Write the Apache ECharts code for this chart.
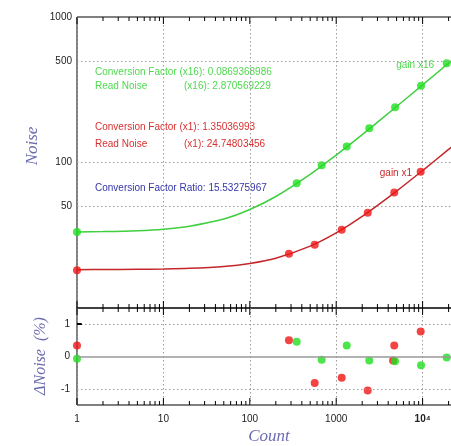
<!DOCTYPE html>
<html><head><meta charset="utf-8">
<script src="https://cdn.jsdelivr.net/npm/echarts@6/dist/echarts.min.js"></script>
<style>html,body{margin:0;padding:0;background:#fff}#c{width:451px;height:446px}</style>
</head><body><div id="c"></div>
<script>
// ---- data ----
const fitCount = [1, 2, 5, 10, 20, 50, 100, 200, 500, 1000, 2000, 5000, 10000, 20000, 50000];
const fitNoiseX1 = [18.35, 18.37, 18.43, 18.53, 18.73, 19.31, 20.25, 22.0, 26.6, 32.8, 42.6, 63.6, 88.0, 123, 193];
const fitNoiseX16 = [33.3, 33.5, 34.0, 34.8, 36.5, 40.9, 47.5, 58.4, 82.9, 112.5, 155.5, 242.6, 341.4, 481.7, 760.6];
const countX1 = [1, 284, 564, 1158, 2315, 4700, 9500];
const noiseX1 = [18.2, 23.6, 27.2, 34.5, 45.2, 62.1, 86.5];
const countX16 = [1, 349, 679, 1324, 2415, 4800, 9590, 19000];
const noiseX16 = [33.3, 71.9, 95.7, 129, 172, 240, 337, 481];
const resCountX1 = [1, 284, 564, 1158, 2315, 4550, 4700, 9500];
const resNoiseX1 = [0.34, 0.50, -0.82, -0.66, -1.05, -0.12, 0.34, 0.77];
const resCountX16 = [1, 349, 679, 1324, 2415, 4800, 9590, 19000];
const resNoiseX16 = [-0.07, 0.46, -0.10, 0.34, -0.12, -0.15, -0.27, -0.03];
// ticks / labels
const noiseTickLabels = [50, 100, 500, 1000];
const noiseGridLines = [50, 100, 500];
const noiseMajorTicks = [10, 100, 1000];
const noiseMinorTicks = [20, 30, 40, 50, 60, 70, 80, 90, 200, 300, 400, 500, 600, 700, 800, 900];
const resTickLabels = [-1, 0, 1];
const resDottedLines = [-1, 1];
const resZeroLine = [0];
const resMajorTicks = [-1, 0, 1];
const resMinorTicks = [-1.5, -1.25, -0.75, -0.5, -0.25, 0.25, 0.5, 0.75, 1.25, 1.5];
const countMajorTicks = [1, 10, 100, 1000, 10000, 100000];
const countMinorTicks = [2, 3, 4, 5, 6, 7, 8, 9, 20, 30, 40, 50, 60, 70, 80, 90,
  200, 300, 400, 500, 600, 700, 800, 900, 2000, 3000, 4000, 5000, 6000, 7000, 8000, 9000,
  20000, 30000, 40000, 50000, 60000, 70000, 80000, 90000];
const countTickLabels = {1: '1', 10: '10', 100: '100', 1000: '1000', 10000: '{b|10⁴}'};
const cfX16Text = 'Conversion Factor (x16): 0.0869368986';
const rnX16Text = '(x16): 2.870569229';
const cfX1Text = 'Conversion Factor (x1): 1.35036993';
const rnX1Text = '(x1): 24.74803456';
const ratioText = 'Conversion Factor Ratio: 15.53275967';

// ---- chart ----
const chart = echarts.init(document.getElementById('c'), null, {renderer: 'canvas'});
const zip = (a, b) => a.map((v, i) => [v, b[i]]);
const GREEN_LINE = '#3fcf3f', GREEN_PT = '#1fe01f';
const RED_LINE = '#c4262a', RED_PT = '#f01515';
const TITLE = '#6b6bb0';
const dotted = {color: '#9a9a9a', type: [1.5, 2.5], width: 1};

function tickSeries(xAxisIndex, yAxisIndex, data, kind, edges) {
  return {
    type: 'custom', xAxisIndex, yAxisIndex, silent: true, clip: false, z: 5,
    data: data, encode: {x: 0, y: 1},
    renderItem: function (params, api) {
      const v = api.value(0), len = api.value(2);
      const lines = [];
      if (kind === 'x') {
        const b = api.coord([v, edges[0]]), t = api.coord([v, edges[1]]);
        if (edges[2]) lines.push({type: 'line', shape: {x1: b[0], y1: b[1], x2: b[0], y2: b[1] - len}, style: {stroke: '#000', lineWidth: 1}});
        if (edges[3]) lines.push({type: 'line', shape: {x1: t[0], y1: t[1], x2: t[0], y2: t[1] + len}, style: {stroke: '#000', lineWidth: 1}});
      } else {
        const l = api.coord([edges[0], v]);
        lines.push({type: 'line', shape: {x1: l[0], y1: l[1], x2: l[0] + len, y2: l[1]}, style: {stroke: '#000', lineWidth: 1}});
      }
      return {type: 'group', children: lines};
    }
  };
}

const xTicksTop = countMajorTicks.map(v => [v, 10, 7]).concat(countMinorTicks.map(v => [v, 10, 4]));
const xTicksBot = countMajorTicks.map(v => [v, -1.5, 7]).concat(countMinorTicks.map(v => [v, -1.5, 4]));
const yTicksTop = noiseMajorTicks.map(v => [1, v, 7]).concat(noiseMinorTicks.map(v => [1, v, 4]));
const yTicksBot = resMajorTicks.map(v => [1, v, 5]).concat(resMinorTicks.map(v => [1, v, 4]));

const option = {
  backgroundColor: '#fff',
  animation: false,
  textStyle: {fontFamily: 'Liberation Sans, Arial, sans-serif'},
  grid: [
    {left: 77, top: 17, width: 432, height: 291, outerBoundsMode: 'none', containLabel: false, show: true, borderColor: '#000', borderWidth: 1, backgroundColor: 'transparent'},
    {left: 77, top: 308, width: 432, height: 97, outerBoundsMode: 'none', containLabel: false, show: true, borderColor: '#000', borderWidth: 1, backgroundColor: 'transparent'}
  ],
  xAxis: [
    {type: 'log', logBase: 10, gridIndex: 0, min: 1, max: 100000,
      axisLine: {show: false}, axisTick: {show: false}, axisLabel: {show: false},
      splitLine: {show: true, lineStyle: dotted}},
    {type: 'log', logBase: 10, gridIndex: 1, min: 1, max: 100000,
      axisLine: {show: false}, axisTick: {show: false},
      axisLabel: {show: true, margin: 9, fontSize: 10, color: '#222',
        formatter: v => countTickLabels[Math.round(v)] || '',
        rich: {b: {fontWeight: 'bold', fontSize: 10, color: '#222'}}},
      splitLine: {show: true, lineStyle: dotted}}
  ],
  yAxis: [
    {type: 'log', logBase: 10, gridIndex: 0, min: 10, max: 1000,
      axisLine: {show: false}, axisTick: {show: false}, splitLine: {show: false},
      axisLabel: {show: true, customValues: noiseTickLabels, margin: 5, fontSize: 10, color: '#222',
        formatter: v => String(Math.round(v))}},
    {type: 'value', gridIndex: 1, min: -1.5, max: 1.5, interval: 0.5,
      axisLine: {show: false}, axisTick: {show: false}, splitLine: {show: false},
      axisLabel: {show: true, customValues: resTickLabels, margin: 7, fontSize: 10, color: '#222'}}
  ],
  series: [
    {type: 'line', name: 'gridTop', xAxisIndex: 0, yAxisIndex: 0, data: [], silent: true,
      markLine: {symbol: 'none', silent: true, label: {show: false}, lineStyle: dotted,
        data: noiseGridLines.map(v => ({yAxis: v}))}},
    {type: 'line', name: 'gridBot', xAxisIndex: 1, yAxisIndex: 1, data: [], silent: true,
      markLine: {symbol: 'none', silent: true, label: {show: false},
        data: resDottedLines.map(v => ({yAxis: v, lineStyle: dotted}))
          .concat(resZeroLine.map(v => ({yAxis: v, lineStyle: {color: '#999', type: 'solid', width: 1.5}})))}},
    {type: 'line', name: 'fit x16', xAxisIndex: 0, yAxisIndex: 0, data: zip(fitCount, fitNoiseX16),
      showSymbol: false, smooth: 0.3, lineStyle: {color: GREEN_LINE, width: 1.5}, z: 3},
    {type: 'line', name: 'fit x1', xAxisIndex: 0, yAxisIndex: 0, data: zip(fitCount, fitNoiseX1),
      showSymbol: false, smooth: 0.3, lineStyle: {color: RED_LINE, width: 1.5}, z: 3},
    {type: 'scatter', name: 'gain x1', xAxisIndex: 0, yAxisIndex: 0, data: zip(countX1, noiseX1),
      symbolSize: 8, itemStyle: {color: RED_PT}, z: 4, clip: false},
    {type: 'scatter', name: 'gain x16', xAxisIndex: 0, yAxisIndex: 0, data: zip(countX16, noiseX16),
      symbolSize: 8, itemStyle: {color: GREEN_PT}, z: 4, clip: false},
    {type: 'scatter', name: 'res x1', xAxisIndex: 1, yAxisIndex: 1, data: zip(resCountX1, resNoiseX1),
      symbolSize: 8, itemStyle: {color: RED_PT}, z: 4, clip: false},
    {type: 'scatter', name: 'res x16', xAxisIndex: 1, yAxisIndex: 1, data: zip(resCountX16, resNoiseX16),
      symbolSize: 8, itemStyle: {color: GREEN_PT}, z: 4, clip: false},
    tickSeries(0, 0, xTicksTop, 'x', [10, 1000, true, true]),
    tickSeries(1, 1, xTicksBot, 'x', [-1.5, 1.5, true, true]),
    tickSeries(0, 0, yTicksTop, 'y', [1]),
    tickSeries(1, 1, yTicksBot, 'y', [1])
  ],
  graphic: [
    {type: 'text', x: 95, y: 72, style: {text: cfX16Text, fill: '#4fd84f', font: '10px Liberation Sans', verticalAlign: 'middle'}},
    {type: 'text', x: 95, y: 86, style: {text: 'Read Noise', fill: '#4fd84f', font: '10px Liberation Sans', verticalAlign: 'middle'}},
    {type: 'text', x: 184, y: 86, style: {text: rnX16Text, fill: '#4fd84f', font: '10px Liberation Sans', verticalAlign: 'middle'}},
    {type: 'text', x: 95, y: 127, style: {text: cfX1Text, fill: '#d83030', font: '10px Liberation Sans', verticalAlign: 'middle'}},
    {type: 'text', x: 95, y: 144, style: {text: 'Read Noise', fill: '#d83030', font: '10px Liberation Sans', verticalAlign: 'middle'}},
    {type: 'text', x: 184, y: 144, style: {text: rnX1Text, fill: '#d83030', font: '10px Liberation Sans', verticalAlign: 'middle'}},
    {type: 'text', x: 95, y: 188, style: {text: ratioText, fill: '#3535a8', font: '10px Liberation Sans', verticalAlign: 'middle'}},
    {type: 'text', x: 434, y: 65, style: {text: 'gain x16', fill: '#4fd84f', font: '10px Liberation Sans', align: 'right', verticalAlign: 'middle'}},
    {type: 'text', x: 412, y: 173, style: {text: 'gain x1', fill: '#c82828', font: '10px Liberation Sans', align: 'right', verticalAlign: 'middle'}},
    {type: 'text', x: 33, y: 146, rotation: Math.PI / 2, style: {text: 'Noise', fill: TITLE, font: 'italic 17px Liberation Serif', align: 'center', verticalAlign: 'middle'}},
    {type: 'text', x: 41, y: 356, rotation: Math.PI / 2, style: {text: 'ΔNoise  (%)', fill: TITLE, font: 'italic 16px Liberation Serif', align: 'center', verticalAlign: 'middle'}},
    {type: 'text', x: 269, y: 437, style: {text: 'Count', fill: TITLE, font: 'italic 17px Liberation Serif', align: 'center', verticalAlign: 'middle'}}
  ]
};
chart.setOption(option);
</script>
</body></html>
